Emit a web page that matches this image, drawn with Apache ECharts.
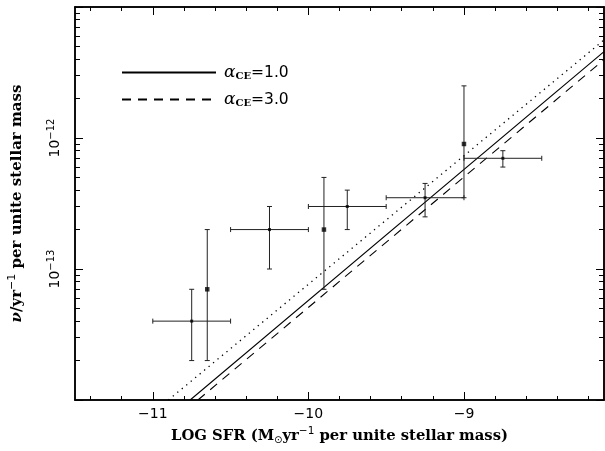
<!DOCTYPE html>
<html><head><meta charset="utf-8">
<script src="https://cdn.jsdelivr.net/npm/echarts@6/dist/echarts.min.js"></script>
<style>html,body{margin:0;padding:0;background:#fff}#c{width:605px;height:451px}</style>
</head><body><div id="c"></div>
<script>
// ---- data ----
const ptX   = [-10.75, -10.65, -10.25, -9.9, -9.75, -9.25, -9.0, -8.75];
const ptY   = [4e-14, 7e-14, 2e-13, 2e-13, 3e-13, 3.5e-13, 9e-13, 7e-13];
const ptXLo = [-11.0, null, -10.5, null, -10.0, -9.5, null, -9.0];
const ptXHi = [-10.5, null, -10.0, null, -9.5, -9.0, null, -8.5];
const ptYLo = [2e-14, 2e-14, 1e-13, 7e-14, 2e-13, 2.5e-13, 3.5e-13, 6e-13];
const ptYHi = [7e-14, 2e-13, 3e-13, 5e-13, 4e-13, 4.5e-13, 2.5e-12, 8e-13];
const ptKind = ['dot', 'square', 'dot', 'square', 'dot', 'dot', 'square', 'dot'];

const solidX  = [-10.76, -8.1];
const solidY  = [1e-14, 4.56e-12];
const dashedX = [-10.71, -8.1];
const dashedY = [1e-14, 3.96e-12];
const dottedX = [-10.9, -8.1];
const dottedY = [1e-14, 5.6e-12];

const legendNames = ['1.0', '3.0'];

const xMajor = [-11, -10, -9];
const xMinor = [-11.4, -11.2, -10.8, -10.6, -10.4, -10.2, -9.8, -9.6, -9.4, -9.2, -8.8, -8.6, -8.4, -8.2];
const yMajor = [1e-14, 1e-13, 1e-12, 1e-11];
const yLabeled = [1e-13, 1e-12];
const yMinor = [2e-14, 3e-14, 4e-14, 5e-14, 6e-14, 7e-14, 8e-14, 9e-14,
                2e-13, 3e-13, 4e-13, 5e-13, 6e-13, 7e-13, 8e-13, 9e-13,
                2e-12, 3e-12, 4e-12, 5e-12, 6e-12, 7e-12, 8e-12, 9e-12];

// ---- build chart ----
const serif = 'DejaVu Serif';
const sans = 'DejaVu Sans';
const black = '#000';

const errData = ptX.map((x, i) => [
  x, ptY[i],
  ptXLo[i] == null ? x : ptXLo[i],
  ptXHi[i] == null ? x : ptXHi[i],
  ptYLo[i], ptYHi[i]
]);
const dots = [], squares = [];
ptX.forEach((x, i) => (ptKind[i] === 'square' ? squares : dots).push([x, ptY[i]]));
const pair = (xs, ys) => xs.map((x, i) => [x, ys[i]]);

const XMIN = -11.5, XMAX = -8.1, YMIN = 1e-14, YMAX = 1e-11;

function xAx(pos, ticks, len, withLabel) {
  const a = {
    type: 'value', position: pos, min: XMIN, max: XMAX,
    axisLine: {show: true, onZero: false, lineStyle: {color: black, width: 1.5}},
    axisTick: {show: true, inside: true, length: len, customValues: ticks, lineStyle: {color: black, width: 1}},
    splitLine: {show: false},
    axisLabel: {show: false}
  };
  if (withLabel) {
    a.axisLabel = {show: true, customValues: xMajor, margin: 7, color: black,
      fontFamily: sans, fontSize: 14,
      formatter: v => String(v).replace('-', '\u2212')};
    a.name = '{t|LOG SFR (M}{sub|\u2299}{t|yr}{sup|\u22121}{t| per unite stellar mass)}';
    a.nameLocation = 'middle';
    a.nameGap = 23;
    a.nameTextStyle = {
      color: black,
      rich: {
        t: {fontFamily: serif, fontWeight: 'bold', fontSize: 14.8, color: black},
        sub: {fontFamily: sans, fontSize: 10, color: black, padding: [9, 0, 0, 0]},
        sup: {fontFamily: sans, fontSize: 10.5, color: black, padding: [0, 0, 9, 0]}
      }
    };
  }
  return a;
}
function yAx(pos, ticks, len, withLabel) {
  const a = {
    type: 'log', logBase: 10, position: pos, min: YMIN, max: YMAX,
    axisLine: {show: true, onZero: false, lineStyle: {color: black, width: 1.5}},
    axisTick: {show: true, inside: true, length: len, customValues: ticks, lineStyle: {color: black, width: 1}},
    splitLine: {show: false},
    minorTick: {show: false},
    axisLabel: {show: false}
  };
  if (withLabel) {
    a.axisLabel = {show: true, customValues: yLabeled, rotate: 90, margin: 10, color: black,
      formatter: v => '{b|10}{s|\u2212' + Math.abs(Math.round(Math.log10(v))) + '}',
      rich: {
        b: {fontFamily: sans, fontSize: 14, color: black},
        s: {fontFamily: sans, fontSize: 10, color: black, padding: [0, 0, 9, 0]}
      }};
    a.name = '{n|\u03bd}{t|/yr}{sup|\u22121}{t| per unite stellar mass}';
    a.nameLocation = 'middle';
    a.nameGap = 47;
    a.nameTextStyle = {
      color: black,
      rich: {
        n: {fontFamily: serif, fontStyle: 'italic', fontWeight: 'bold', fontSize: 15, color: black},
        t: {fontFamily: serif, fontWeight: 'bold', fontSize: 15, color: black},
        sup: {fontFamily: sans, fontSize: 11, color: black, padding: [0, 0, 10, 0]}
      }
    };
  }
  return a;
}

const legendRich = {
  a: {fontFamily: serif, fontStyle: 'italic', fontSize: 17, color: black, padding: [0, 0, 0, 3]},
  s: {fontFamily: serif, fontWeight: 'bold', fontSize: 10, color: black, padding: [8, 0, 0, 0]},
  e: {fontFamily: sans, fontSize: 15.5, color: black}
};
function mkLegend(name, top) {
  return {
    data: [name], left: 121, top: top, orient: 'vertical', padding: 0,
    itemWidth: 94, itemHeight: 10, selectedMode: false,
    itemStyle: {opacity: 0},
    formatter: n => '{a|\u03b1}{s|CE}{e|=' + n.replace('a', '') + '}',
    textStyle: {rich: legendRich}
  };
}

const chart = echarts.init(document.getElementById('c'), null, {renderer: 'canvas'});
chart.setOption({
  animation: false,
  backgroundColor: '#fff',
  grid: {left: 75, right: 1, top: 7, bottom: 51, containLabel: false, outerBoundsMode: 'none'},
  legend: [mkLegend('a' + legendNames[0], 64), mkLegend('a' + legendNames[1], 91)],
  xAxis: [
    xAx('bottom', xMajor, 8, true),
    xAx('bottom', xMinor, 4, false),
    xAx('top', xMajor, 8, false),
    xAx('top', xMinor, 4, false)
  ],
  yAxis: [
    yAx('left', yMajor, 8, true),
    yAx('left', yMinor, 5, false),
    yAx('right', yMajor, 8, false),
    yAx('right', yMinor, 5, false)
  ],
  series: [
    {
      type: 'line', name: 'dotted', data: pair(dottedX, dottedY), symbol: 'none',
      lineStyle: {color: black, width: 1.3, type: [1.3, 4.5]}, silent: true, z: 2
    },
    {
      type: 'line', name: 'a' + legendNames[0], data: pair(solidX, solidY), symbol: 'none',
      lineStyle: {color: black, width: 1.1, type: 'solid'}, itemStyle: {color: black}, z: 2
    },
    {
      type: 'line', name: 'a' + legendNames[1], data: pair(dashedX, dashedY), symbol: 'none',
      lineStyle: {color: black, width: 1.1, type: [9, 7]}, itemStyle: {color: black}, z: 2
    },
    {
      type: 'custom', name: 'err', data: errData,
      encode: {x: [0, 2, 3], y: [1, 4, 5]},
      renderItem: (params, api) => {
        const x = api.value(0), y = api.value(1);
        const xl = api.value(2), xh = api.value(3), yl = api.value(4), yh = api.value(5);
        const c = api.coord([x, y]);
        const st = {stroke: '#222', lineWidth: 1};
        const kids = [];
        const pl = api.coord([x, yl]), ph = api.coord([x, yh]);
        kids.push({type: 'line', shape: {x1: c[0], y1: pl[1], x2: c[0], y2: ph[1]}, style: st});
        kids.push({type: 'line', shape: {x1: c[0] - 2.5, y1: pl[1], x2: c[0] + 2.5, y2: pl[1]}, style: st});
        kids.push({type: 'line', shape: {x1: c[0] - 2.5, y1: ph[1], x2: c[0] + 2.5, y2: ph[1]}, style: st});
        if (xl !== xh) {
          const ql = api.coord([xl, y]), qh = api.coord([xh, y]);
          kids.push({type: 'line', shape: {x1: ql[0], y1: c[1], x2: qh[0], y2: c[1]}, style: st});
          kids.push({type: 'line', shape: {x1: ql[0], y1: c[1] - 2.5, x2: ql[0], y2: c[1] + 2.5}, style: st});
          kids.push({type: 'line', shape: {x1: qh[0], y1: c[1] - 2.5, x2: qh[0], y2: c[1] + 2.5}, style: st});
        }
        return {type: 'group', children: kids};
      },
      z: 3
    },
    {
      type: 'scatter', name: 'dots', data: dots, symbol: 'rect', symbolSize: 3,
      itemStyle: {color: black}, z: 4
    },
    {
      type: 'scatter', name: 'squares', data: squares, symbol: 'rect', symbolSize: 4.5,
      itemStyle: {color: black}, z: 4
    }
  ]
});
</script>
</body></html>
